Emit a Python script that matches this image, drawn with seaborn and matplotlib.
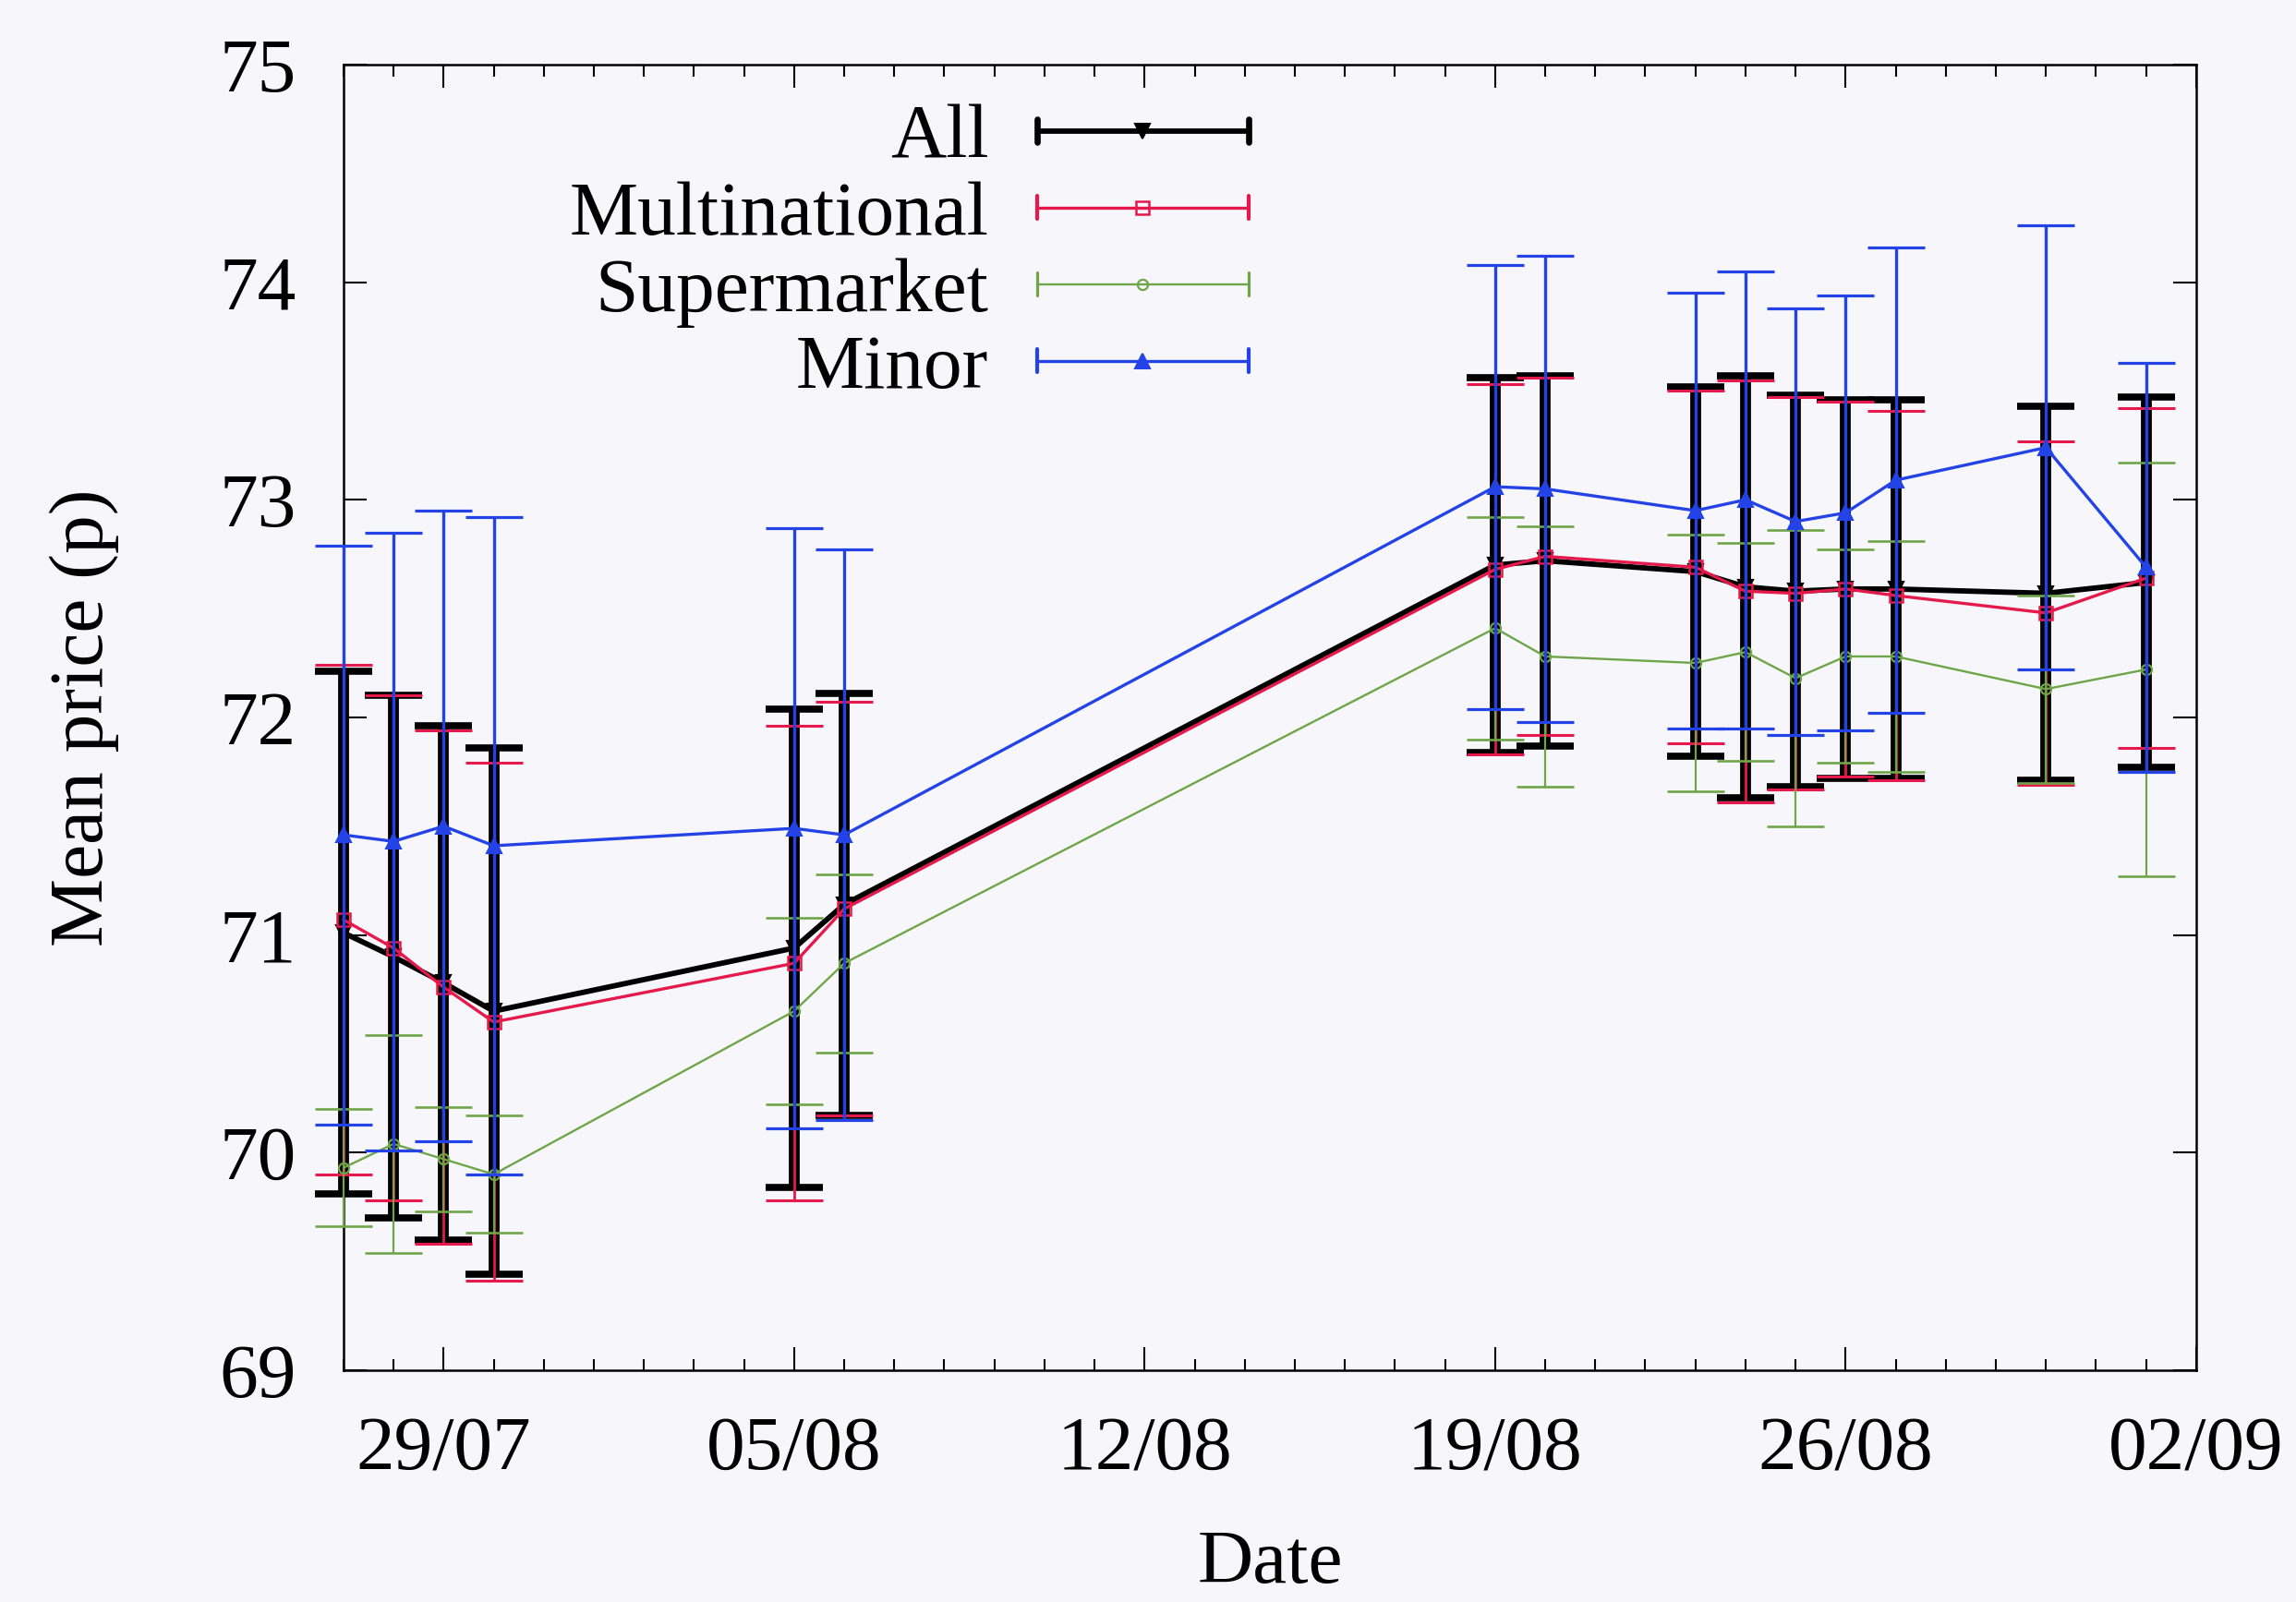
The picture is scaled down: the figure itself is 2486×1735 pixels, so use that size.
import matplotlib
matplotlib.use("Agg")
import matplotlib.pyplot as plt
import matplotlib.dates as mdates
from matplotlib.legend_handler import HandlerBase
from matplotlib.lines import Line2D
import numpy as np
import pandas as pd
import seaborn as sns

# ---- data -------------------------------------------------------------
dates = ["27/07", "28/07", "29/07", "30/07", "05/08", "06/08", "19/08", "20/08",
         "23/08", "24/08", "25/08", "26/08", "27/08", "30/08", "01/09"]

all_mean = [71.01, 70.90, 70.78, 70.65, 70.94, 71.14, 72.70, 72.72,
            72.67, 72.60, 72.58, 72.59, 72.59, 72.57, 72.62]
all_err = [1.20, 1.20, 1.18, 1.21, 1.10, 0.97, 0.86, 0.85,
           0.85, 0.97, 0.90, 0.87, 0.87, 0.86, 0.85]

multi_mean = [71.07, 70.94, 70.76, 70.60, 70.87, 71.12, 72.68, 72.74,
              72.69, 72.58, 72.57, 72.59, 72.56, 72.48, 72.64]
multi_err = [1.17, 1.16, 1.18, 1.19, 1.09, 0.95, 0.85, 0.82,
             0.81, 0.97, 0.90, 0.86, 0.85, 0.79, 0.78]

super_mean = [69.93, 70.04, 69.97, 69.90, 70.65, 70.87, 72.41, 72.28,
              72.25, 72.30, 72.18, 72.28, 72.28, 72.13, 72.22]
super_err = [0.27, 0.50, 0.24, 0.27, 0.43, 0.41, 0.51, 0.60,
             0.59, 0.50, 0.68, 0.49, 0.53, 0.43, 0.95]

minor_mean = [71.46, 71.43, 71.50, 71.41, 71.49, 71.46, 73.06, 73.05,
              72.95, 73.00, 72.90, 72.94, 73.09, 73.24, 72.69]
minor_err = [1.33, 1.42, 1.45, 1.51, 1.38, 1.31, 1.02, 1.07,
             1.00, 1.05, 0.98, 1.00, 1.07, 1.02, 0.94]

series_names = ["All", "Multinational", "Supermarket", "Minor"]
x_tick_labels = ["29/07", "05/08", "12/08", "19/08", "26/08", "02/09"]
y_ticks = [69, 70, 71, 72, 73, 74, 75]
year = "2013"

# ---- styles -------------------------------------------------------------
styles = {
    "All":           dict(color="#000000", lw=4.2, elw=8.5, cthick=5.5, marker="v", ms=12, mfc="#000000", mew=1.5),
    "Multinational": dict(color="#e5194b", lw=2.4, elw=2.0, cthick=2.2, marker="s", ms=10, mfc="none", mew=1.8),
    "Supermarket":   dict(color="#6fa548", lw=1.7, elw=1.6, cthick=1.9, marker="o", ms=8, mfc="none", mew=1.6),
    "Minor":         dict(color="#2343e6", lw=2.4, elw=2.4, cthick=2.3, marker="^", ms=11, mfc="#2343e6", mew=1.5),
}
values = {
    "All": (all_mean, all_err),
    "Multinational": (multi_mean, multi_err),
    "Supermarket": (super_mean, super_err),
    "Minor": (minor_mean, minor_err),
}

bg = "#f7f7fb"
fs = 60

sns.set_theme(style="ticks")
plt.rcParams["font.family"] = ["Liberation Serif", "DejaVu Serif"]
plt.rcParams.update({
    "axes.linewidth": 1.8,
    "axes.edgecolor": "#000000",
    "text.color": "#000000",
    "axes.labelcolor": "#000000",
    "xtick.color": "#000000",
    "ytick.color": "#000000",
})

fig = plt.figure(figsize=(24.86, 17.35), dpi=100, facecolor=bg)
ax = fig.add_axes([0.1496, 0.1447, 0.8069, 0.815])
ax.set_facecolor(bg)

x = pd.to_datetime([d + "/" + year for d in dates], format="%d/%m/%Y")

for i, name in enumerate(series_names):
    st = styles[name]
    mean, err = values[name]
    z = 2 + i
    eb = ax.errorbar(x, mean, yerr=err, fmt="none", ecolor=st["color"],
                     elinewidth=st["elw"], capsize=22, capthick=st["cthick"],
                     zorder=z)
    for art in list(eb.lines[1]) + list(eb.lines[2]):
        art.set_clip_on(False)
    df = pd.DataFrame({"date": x, "price": mean})
    sns.lineplot(data=df, x="date", y="price", ax=ax, color=st["color"],
                 linewidth=st["lw"], marker=st["marker"], markersize=st["ms"],
                 markerfacecolor=st["mfc"], markeredgecolor=st["color"],
                 markeredgewidth=st["mew"], legend=False, errorbar=None,
                 zorder=z + 0.5, clip_on=False)

# ---- axes -------------------------------------------------------------
ax.set_xlim(pd.Timestamp("2013-07-27"), pd.Timestamp("2013-09-02"))
ax.set_ylim(69, 75)
tick_pos = pd.to_datetime([t + "/" + year for t in x_tick_labels], format="%d/%m/%Y")
ax.set_xticks(tick_pos, labels=x_tick_labels)
ax.xaxis.set_minor_locator(mdates.DayLocator())
ax.set_yticks(y_ticks, labels=[str(v) for v in y_ticks])
ax.tick_params(axis="both", which="both", direction="in", top=True, right=True,
               color="#000000", width=1.5)
ax.tick_params(which="major", length=18, labelsize=fs)
ax.tick_params(which="minor", length=9)
ax.tick_params(axis="x", pad=36)
ax.tick_params(axis="y", pad=37)
ax.grid(False)

ax.set_xlabel("Date", fontsize=fs)
ax.set_ylabel("Mean price (p)", fontsize=fs)
ax.xaxis.set_label_coords(0.5, -0.122)
ax.yaxis.set_label_coords(-0.121, 0.5)


# ---- key: line with end caps and a centred marker ------------------------
class CappedKey(HandlerBase):
    def create_artists(self, legend, orig_handle, xdescent, ydescent,
                       width, height, fontsize, trans):
        y = (height - ydescent) / 2.0
        x0, x1 = -xdescent, width - xdescent
        c = orig_handle.get_color()
        lw = orig_handle.get_linewidth()
        h = 0.22 * height
        arts = [
            Line2D([x0, x1], [y, y], color=c, lw=lw, solid_capstyle="butt"),
            Line2D([x0, x0], [y - h, y + h], color=c, lw=lw + 0.6),
            Line2D([x1, x1], [y - h, y + h], color=c, lw=lw + 0.6),
            Line2D([(x0 + x1) / 2], [y], linestyle="none",
                   marker=orig_handle.get_marker(),
                   markersize=orig_handle.get_markersize(),
                   markerfacecolor=orig_handle.get_markerfacecolor(),
                   markeredgecolor=c,
                   markeredgewidth=orig_handle.get_markeredgewidth()),
        ]
        for a in arts:
            a.set_transform(trans)
        return arts


handles = []
for name in series_names:
    st = styles[name]
    handles.append(Line2D([], [], color=st["color"], lw=st["lw"], marker=st["marker"],
                          markersize=st["ms"], markerfacecolor=st["mfc"],
                          markeredgewidth=st["mew"]))

ax.legend(handles, series_names, loc="upper right", bbox_to_anchor=(0.4885, 0.970),
          frameon=False, markerfirst=False, handlelength=2.75, handletextpad=0.63,
          labelspacing=0.08, fontsize=fs, borderpad=0, borderaxespad=0,
          handler_map={Line2D: CappedKey()})

fig.savefig("out.png", dpi=100, facecolor=bg)
